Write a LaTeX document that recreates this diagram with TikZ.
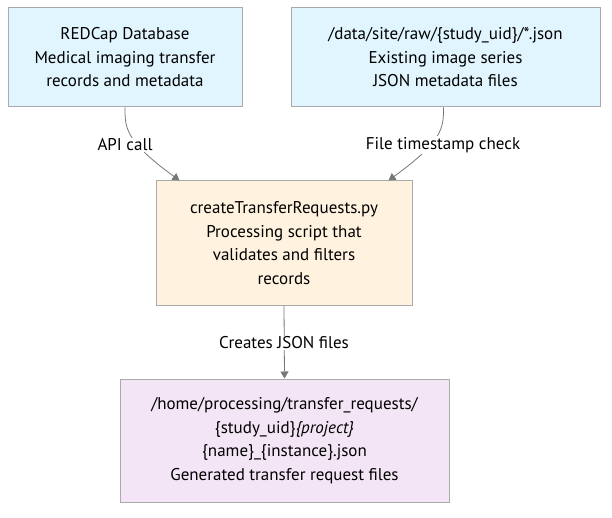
\documentclass[tikz,border=0pt]{standalone}
\usepackage{fontspec}
\setmainfont{PT Sans}
\usetikzlibrary{arrows.meta,calc}
\definecolor{srcfill}{HTML}{E1F5FE}
\definecolor{procfill}{HTML}{FFF3E0}
\definecolor{outfill}{HTML}{F3E5F5}
\definecolor{boxline}{HTML}{AAAAAA}
\definecolor{edgeline}{HTML}{777777}
\begin{document}
\begin{tikzpicture}
			[x=1pt,y=-1pt,
			box/.style={rectangle,draw=boxline,line width=1pt,align=center,inner sep=0pt,
				font=\fontsize{17}{23.5}\selectfont},
			lbl/.style={fill=white,inner sep=1pt,font=\fontsize{17}{23.5}\selectfont},
			edge/.style={draw=edgeline,line width=0.8pt},
			>={Triangle[width=8pt,length=7pt]}]
			\useasboundingbox (0,0) rectangle (612,518);
			\node[box,fill=srcfill,minimum width=234pt,minimum height=99pt,name=redcap] at (125,57.5)
				{REDCap Database\\Medical imaging transfer\\records and metadata};
			\node[box,fill=srcfill,minimum width=309pt,minimum height=99pt,name=raw] at (445.5,57.5)
				{/data/site/raw/\{study\_uid\}/*.json\\Existing image series\\JSON metadata files};
			\node[box,fill=procfill,minimum width=256pt,minimum height=124pt,name=script] at (284,243)
				{createTransferRequests.py\\Processing script that\\validates and filters\\records};
			\node[box,fill=outfill,minimum width=329pt,minimum height=123pt,name=requests] at (284.5,440.5)
				{/home/processing/transfer\_requests/\\\{study\_uid\}\textit{\{project\}}\\\{name\}\_\{instance\}.json\\Generated transfer request files};
			\draw[edge,->](redcap.south) .. controls +(0,20) and +(-55,-40) .. ([xshift=24pt]script.north west);
			\draw[edge,->]([xshift=-2pt]raw.south) .. controls +(0,20) and +(55,-40) .. ([xshift=-24pt]script.north east);
			\draw[edge,->](script.south) -- (requests.north);
			\node[lbl,name=api] at (125,145) {API call};
			\node[lbl,name=stamp] at (443,145) {File timestamp check};
			\node[lbl,name=creates] at (284,343) {Creates JSON files};
		\end{tikzpicture}
\end{document}
